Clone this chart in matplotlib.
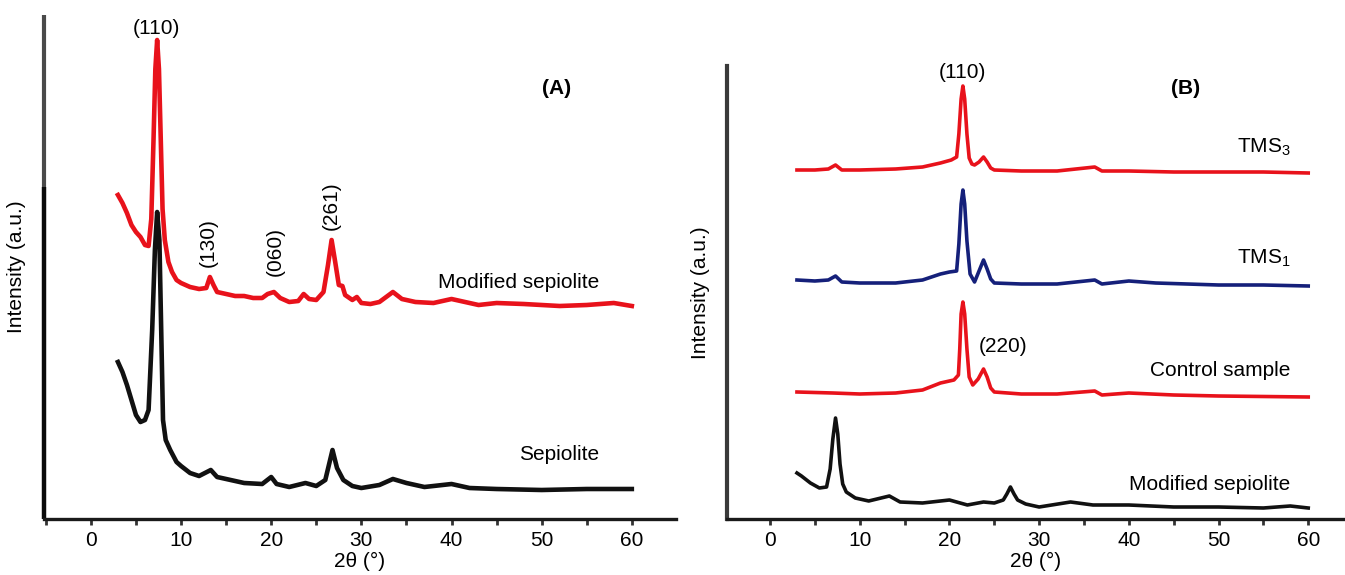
import matplotlib
matplotlib.use("Agg")
import matplotlib.pyplot as plt
from matplotlib.ticker import MultipleLocator

plt.rcParams["font.family"] = ["Liberation Sans", "DejaVu Sans"]
plt.rcParams["mathtext.fontset"] = "custom"
plt.rcParams["mathtext.rm"] = "Liberation Sans"
plt.rcParams["mathtext.it"] = "Liberation Sans"

# ---- Panel A: sepiolite before / after modification (stacked, a.u.) ----
a_mod_x = [3.0, 3.5, 4.0, 4.5, 5.0, 5.5, 6.0, 6.4, 6.7, 6.95, 7.15, 7.35, 7.55, 7.75, 7.95,
           8.2, 8.6, 9.0, 9.5, 10, 11, 12, 12.8, 13.2, 13.6, 14, 15, 16, 17, 18, 19,
           19.6, 20.3, 21, 22, 23, 23.6, 24.2, 25, 25.8, 26.3, 26.7, 27.1, 27.5, 27.9,
           28.2, 29, 29.5, 30, 31, 32, 33.5, 34.5, 36, 38, 40, 41, 43, 45, 48, 50, 52,
           55, 58, 60]
a_mod_y = [324, 316, 306, 294, 287, 282, 274, 273, 300, 380, 450, 479, 450, 380, 310,
           279, 257, 247, 239, 236, 232, 230, 231, 242, 234, 227, 225, 223, 223, 221, 221,
           225, 227, 221, 217, 218, 225, 220, 219, 227, 254, 279, 257, 234, 233,
           224, 219, 222, 216, 215, 217, 227, 220, 217, 216, 220, 218, 214, 216, 215, 214, 213,
           214, 216, 213]

a_sep_x = [3.0, 3.5, 4.0, 4.5, 5.0, 5.5, 6.0, 6.4, 6.8, 7.1, 7.35, 7.6, 7.8, 8.0, 8.3,
           8.8, 9.5, 10, 11, 12, 13.3, 14, 15, 17, 19, 20, 20.6, 22, 23.8, 25, 26, 26.8,
           27.3, 28, 29, 30, 32, 33.5, 35, 37, 40, 42, 45, 50, 55, 60]
a_sep_y = [157, 147, 134, 119, 104, 97, 99, 109, 189, 269, 307, 279, 189, 99, 79,
           69, 57, 53, 46, 43, 49, 42, 40, 36, 35, 42, 35, 32, 36, 33, 39, 69,
           51, 39, 33, 31, 34, 40, 36, 32, 35, 31, 30, 29, 30, 30]

# ---- Panel B: treated samples (stacked, a.u.) ----
b_tms3_x = [3, 5, 6.5, 7.3, 8, 10, 14, 17, 19, 20.2, 20.8, 21.05, 21.3, 21.5, 21.7, 21.95,
            22.2, 22.5, 22.8, 23.3, 23.8, 24.2, 24.6, 25, 28, 32, 36.2, 37, 40, 45, 50,
            55, 60]
b_tms3_y = [349, 349, 350, 354, 349, 349, 350, 352, 356, 359, 362, 385, 420, 433, 420, 385,
            361, 355, 354, 357, 362, 357, 351, 349, 348, 348, 352, 348, 348, 347, 347,
            347, 346]

b_tms1_x = [3, 5, 6.5, 7.3, 8, 10, 14, 17, 19, 20, 20.8, 21.05, 21.3, 21.5, 21.7, 21.95,
            22.3, 22.8, 23.3, 23.8, 24.2, 24.6, 25, 28, 32, 36.2, 37, 40, 43, 50, 55, 60]
b_tms1_y = [239, 238, 239, 243, 237, 236, 236, 239, 245, 247, 248, 275, 315, 329, 315, 278,
            245, 237, 248, 259, 250, 240, 236, 235, 235, 239, 235, 238, 236, 234, 234, 233]

b_ctrl_x = [3, 7, 10, 14, 17, 19, 20.5, 21, 21.15, 21.3, 21.5, 21.7, 21.95, 22.2, 22.6,
            23.2, 23.8, 24.2, 24.6, 25, 28, 32, 36.2, 37, 40, 45, 50, 60]
b_ctrl_y = [127, 126, 125, 126, 129, 136, 139, 144, 170, 205, 217, 205, 170, 142, 134,
            140, 150, 142, 131, 127, 125, 125, 128, 124, 126, 124, 123, 122]

b_msep_x = [3, 3.5, 4.5, 5.5, 6.3, 6.7, 7.0, 7.3, 7.55, 7.8, 8.1, 8.5, 9.5, 11, 13.3,
            14.5, 17, 20, 22, 23.8, 25, 26.0, 26.4, 26.8, 27.2, 27.6, 28.5, 30, 33.5, 36,
            40, 45, 50, 55, 58, 60]
b_msep_y = [46, 43, 36, 31, 32, 50, 80, 101, 85, 55, 35, 27, 21, 18, 23,
            17, 16, 19, 14, 17, 16, 19, 25, 32, 25, 19, 15, 12, 17, 14,
            14, 12, 12, 11, 13, 11]

x_ticks = [0, 10, 20, 30, 40, 50, 60]

RED = "#e8121b"
BLUE = "#15207a"
BLACK = "#111111"
FS = 15

W, H = 1345, 575
fig = plt.figure(figsize=(W / 100, H / 100), dpi=100)


def px_axes(left, right, top, bottom):
    return fig.add_axes([left / W, 1 - bottom / H, (right - left) / W, (bottom - top) / H])


def style_axes(ax, xlim, height):
    ax.set_xlim(*xlim)
    ax.set_ylim(0, height)
    for s in ("top", "right"):
        ax.spines[s].set_visible(False)
    ax.spines["bottom"].set_linewidth(2.4)
    ax.spines["bottom"].set_color("#1a1a1a")
    ax.spines["left"].set_linewidth(3.0)
    ax.spines["left"].set_color("#1a1a1a")
    ax.set_yticks([])
    ax.set_xticks(x_ticks)
    ax.xaxis.set_minor_locator(MultipleLocator(5))
    ax.tick_params(axis="x", which="both", direction="out", length=4, width=2.0,
                   color="#333333", labelsize=FS, pad=5)
    ax.set_xlabel("2θ (°)", fontsize=FS, labelpad=1)
    ax.set_ylabel("Intensity (a.u.)", fontsize=FS)


# Panel A
axA = px_axes(44, 676, 15, 519)
style_axes(axA, (-5.2, 64.9), 504)
axA.spines["left"].set_visible(False)
axA.plot([0, 0], [0, 332 / 504], transform=axA.transAxes, color="#0a0a0a", lw=3.2,
         solid_capstyle="butt", clip_on=False)
axA.plot([0, 0], [332 / 504, 1], transform=axA.transAxes, color="#4a4a4a", lw=3.0,
         solid_capstyle="butt", clip_on=False)
axA.yaxis.set_label_coords(-18 / 632, 0.5)
axA.plot(a_sep_x, a_sep_y, color=BLACK, lw=3.3, solid_joinstyle="round")
axA.plot(a_mod_x, a_mod_y, color=RED, lw=3.3, solid_joinstyle="round")

axA.text(7.3, 491, "(110)", fontsize=FS, ha="center", va="center")
axA.text(13.0, 276, "(130)", fontsize=FS, ha="center", va="center", rotation=90)
axA.text(20.4, 267, "(060)", fontsize=FS, ha="center", va="center", rotation=90)
axA.text(26.7, 313, "(261)", fontsize=FS, ha="center", va="center", rotation=90)
axA.text(51.7, 431, "(A)", fontsize=FS, ha="center", va="center", fontweight="bold")
axA.text(56.4, 237, "Modified sepiolite", fontsize=FS, ha="right", va="center")
axA.text(56.4, 64, "Sepiolite", fontsize=FS, ha="right", va="center")

# Panel B
axB = px_axes(727, 1345, 66, 519)
style_axes(axB, (-4.8, 64.1), 453)
axB.spines["left"].set_color("#3a3a3a")
axB.yaxis.set_label_coords(-17 / 618, 0.5)
axB.plot(b_msep_x, b_msep_y, color=BLACK, lw=2.6, solid_joinstyle="round")
axB.plot(b_ctrl_x, b_ctrl_y, color=RED, lw=2.6, solid_joinstyle="round")
axB.plot(b_tms1_x, b_tms1_y, color=BLUE, lw=2.6, solid_joinstyle="round")
axB.plot(b_tms3_x, b_tms3_y, color=RED, lw=2.6, solid_joinstyle="round")

axB.text(21.4, 447, "(110)", fontsize=FS, ha="center", va="center", clip_on=False)
axB.text(46.3, 431, "(B)", fontsize=FS, ha="center", va="center", fontweight="bold",
         clip_on=False)
axB.text(58.0, 372, r"TMS$_3$", fontsize=FS, ha="right", va="center")
axB.text(58.0, 261, r"TMS$_1$", fontsize=FS, ha="right", va="center")
axB.text(26.0, 172, "(220)", fontsize=FS, ha="center", va="center")
axB.text(58.0, 148, "Control sample", fontsize=FS, ha="right", va="center")
axB.text(58.0, 35, "Modified sepiolite", fontsize=FS, ha="right", va="center")

fig.savefig("out.png", dpi=100)
